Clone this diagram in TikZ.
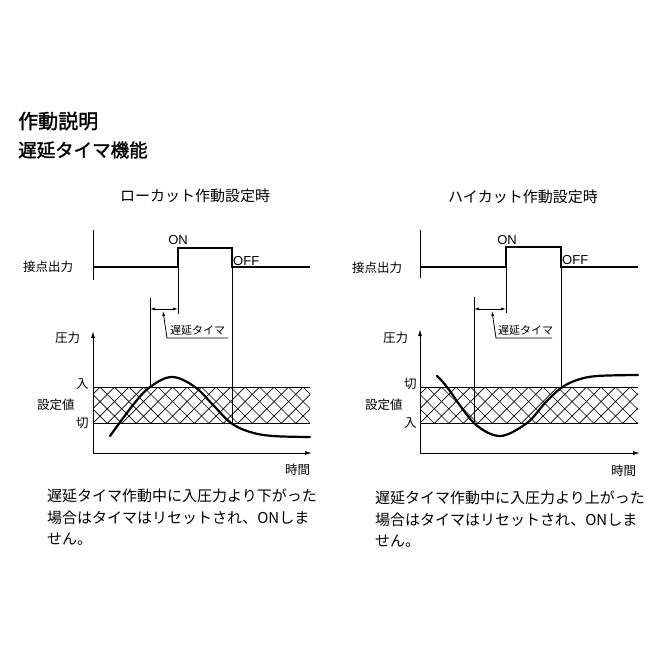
\documentclass[tikz,border=0pt]{standalone}
\usepackage{fontspec}
\setmainfont{Noto Sans CJK JP}
\newfontfamily\onfont{Liberation Sans}
\newfontfamily\headfont[FakeBold=1.5]{Noto Sans CJK JP}
\usetikzlibrary{arrows.meta, positioning}

\tikzset{
  sigline/.style={line width=2.8pt, line join=miter},
  thinline/.style={line width=0.9pt},
  hatchline/.style={line width=0.7pt},
  curveline/.style={line width=2.2pt, line cap=round},
  axisline/.style={line width=1pt, -{Latex[length=7pt,width=4pt]}},
  dimline/.style={line width=0.8pt, {Latex[length=5pt,width=3pt]}-{Latex[length=5pt,width=3pt]}},
  leaderline/.style={line width=0.8pt, -{Latex[length=5pt,width=3pt]}},
  smalltext/.style={font=\fontsize{12.5}{12.5}\selectfont, inner sep=0pt},
  delaytext/.style={font=\fontsize{11}{11}\selectfont, inner sep=0pt},
  switchtext/.style={font=\onfont\fontsize{13}{13}\selectfont, inner sep=0pt},
  paneltitle/.style={font=\fontsize{15}{15}\selectfont, inner sep=0pt},
  bodytext/.style={font=\fontsize{15}{21.5}\selectfont, inner sep=0pt, align=left},
}

\begin{document}
\begin{tikzpicture}[x=1pt,y=-1pt]
\useasboundingbox (0,0) rectangle (662,662);
\fill[white] (0,0) rectangle (662,662);

% headings
\node[anchor=west, inner sep=0pt, font=\headfont\fontsize{20}{20}\selectfont] (title) at (18,121) {作動説明};
\node[anchor=west, inner sep=0pt, font=\headfont\fontsize{18.5}{18.5}\selectfont] (subtitle) at (18,150) {遅延タイマ機能};

% ---- low cut ----
\node[paneltitle] (lowtitle) at (195,196) {ローカット作動設定時};

\coordinate (Lon) at (178,248);
\coordinate (Loff) at (232,248);
\draw[thinline] (93,230) -- (93,280);
\draw[sigline] (93,267) -- (178,267) -- (Lon) -- (Loff) -- (232,267) -- (310,267);
\node[switchtext] (Lontext) at (178,240) {ON};
\node[switchtext, anchor=west] (Lofftext) at (233,261) {OFF};
\node[smalltext, anchor=west] (Lcontact) at (23,267) {接点出力};

% band
\begin{scope}
  \clip (93,387) rectangle (310,423);
  \foreach \k in {-4,...,18}
    \draw[hatchline] (100+14.5*\k,387) -- ++(45,45) (100+14.5*\k,387) -- ++(-45,45);
\end{scope}
\draw[thinline] (93,387) -- (310,387) (93,423) -- (310,423);

% guides
\coordinate (Lstart) at (150,298);
\draw[thinline] (Lon) -- (178,314);
\draw[thinline] (Loff) -- (232,423);
\draw[thinline] (Lstart) -- (150,387);
\draw[dimline] (150,309) -- (178,309);
\node[delaytext, anchor=south west] (Ldelay) at (170,336) {遅延タイマ};
\draw[leaderline] (228,338) -- (167,338) -- (163,311);

% axes
\draw[axisline] (93,453) -- (93,331);
\draw[axisline] (93,453) -- (312,453);
\node[smalltext, anchor=west] (Lpress) at (55,338) {圧力};
\node[smalltext, anchor=west] (Lon2) at (76,384) {入};
\node[smalltext, anchor=west] (Lset) at (37,405) {設定値};
\node[smalltext, anchor=west] (Loff2) at (76,423) {切};
\node[smalltext, anchor=west] (Ltime) at (285,470) {時間};

\draw[curveline] plot[smooth, tension=0.6] coordinates
  {(110,436) (133,405) (150,387) (172,377) (195,387) (214,406) (231,423) (250,432) (273,436) (310,437)};

\node[bodytext, anchor=north west] (Lnote) at (47,489)
  {遅延タイマ作動中に入圧力より下がった\\場合はタイマはリセットされ、ONしま\\せん。};

% ---- high cut ----
\node[paneltitle] (hightitle) at (523,197) {ハイカット作動設定時};

\coordinate (Hon) at (506,247);
\coordinate (Hoff) at (561,247);
\draw[thinline] (420,230) -- (420,278);
\draw[sigline] (420,267) -- (506,267) -- (Hon) -- (Hoff) -- (561,267) -- (638,267);
\node[switchtext] (Hontext) at (507,240) {ON};
\node[switchtext, anchor=west] (Hofftext) at (562,260) {OFF};
\node[smalltext, anchor=west] (Hcontact) at (352,268) {接点出力};

\begin{scope}
  \clip (420,387) rectangle (638,423);
  \foreach \k in {-4,...,18}
    \draw[hatchline] (427+14.5*\k,387) -- ++(45,45) (427+14.5*\k,387) -- ++(-45,45);
\end{scope}
\draw[thinline] (420,387) -- (638,387) (420,423) -- (638,423);

\coordinate (Hstart) at (474,297);
\draw[thinline] (Hon) -- (506,313);
\draw[thinline] (Hoff) -- (561,387);
\draw[thinline] (Hstart) -- (474,423);
\draw[dimline] (474,309) -- (506,309);
\node[delaytext, anchor=south west] (Hdelay) at (498,336) {遅延タイマ};
\draw[leaderline] (552,338) -- (496,338) -- (492,311);

\draw[axisline] (420,453) -- (420,329);
\draw[axisline] (420,453) -- (640,453);
\node[smalltext, anchor=west] (Hpress) at (383,338) {圧力};
\node[smalltext, anchor=west] (Hoff2) at (404,384) {切};
\node[smalltext, anchor=west] (Hset) at (365,405) {設定値};
\node[smalltext, anchor=west] (Hon2) at (404,423) {入};
\node[smalltext, anchor=west] (Htime) at (611,471) {時間};

\draw[curveline] plot[smooth, tension=0.55] coordinates
  {(437,376) (447,387) (474,423) (500,436) (527,423) (545,403) (561,388) (577,380) (597,376) (638,375)};

\node[bodytext, anchor=north west] (Hnote) at (375,491)
  {遅延タイマ作動中に入圧力より上がった\\場合はタイマはリセットされ、ONしま\\せん。};
\end{tikzpicture}
\end{document}
